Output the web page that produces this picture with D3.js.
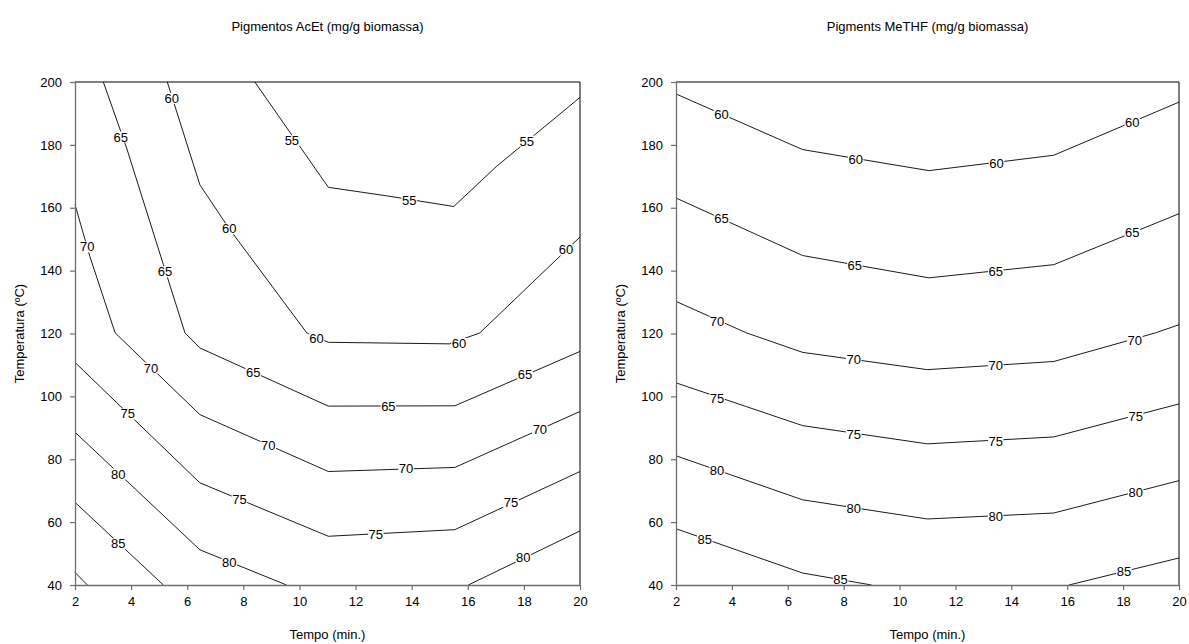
<!DOCTYPE html>
<html><head><meta charset="utf-8">
<script src="https://cdn.jsdelivr.net/npm/d3@7"></script>
<style>
body{margin:0;background:#fff}
svg{display:block}
text{font-family:"Liberation Sans",Arial,sans-serif;fill:#000}
</style>
</head><body>
<svg id="c" width="1189" height="644"></svg>
<script>
const xTicks = [2,4,6,8,10,12,14,16,18,20];
const yTicks = [40,60,80,100,120,140,160,180,200];
const titles = ["Pigmentos AcEt (mg/g biomassa)", "Pigments MeTHF (mg/g biomassa)"];
const xLabel = "Tempo (min.)";
const yLabel = "Temperatura (ºC)";

// contour polylines: [level, [[tempo, temperatura], ...]]
const acetLines = [
  [55, [[8.41,200],[11.03,166.5],[13.1,163.8],[15.5,160.4],[17.03,173.2],[20,195.1]]],
  [60, [[5.29,200],[6.45,167.3],[7.5,153.3],[10.26,120.2],[11.03,117.2],[15.36,116.7],[16.43,120.2],[20,150.7]]],
  [65, [[3.01,200],[3.84,179.0],[5.15,141.9],[5.92,120.2],[6.45,115.4],[11.03,96.9],[15.54,97.0],[20,114.3]]],
  [70, [[2,161.0],[2.53,144.5],[3.43,120.2],[6.45,94.2],[11.03,76.1],[15.54,77.4],[20,95.2]]],
  [75, [[2,110.8],[6.45,72.5],[11.03,55.5],[15.54,57.6],[20,76.1]]],
  [80, [[2,88.6],[6.45,51.2],[9.54,40]]],
  [80, [[16.02,40],[20,57.2]]],
  [85, [[2,66.3],[5.15,40]]],
  [90, [[2,44.0],[2.44,40]]]
];
const acetLabels = [
  [9.73,181.3,"55"],[13.91,162.3,"55"],[18.10,181.2,"55"],
  [5.45,194.8,"60"],[7.50,153.3,"60"],[10.61,118.3,"60"],[15.69,116.8,"60"],[19.50,146.6,"60"],
  [3.63,182.5,"65"],[5.21,139.6,"65"],[8.35,107.6,"65"],[13.17,96.7,"65"],[18.04,106.8,"65"],
  [2.44,147.6,"70"],[4.71,109.0,"70"],[8.89,84.4,"70"],[13.80,76.9,"70"],[18.57,89.6,"70"],
  [3.88,94.4,"75"],[7.86,67.1,"75"],[12.72,56.1,"75"],[17.54,66.1,"75"],
  [3.54,75.3,"80"],[7.50,47.3,"80"],[17.98,48.7,"80"],
  [3.54,53.1,"85"]
];

const methfLines = [
  [60, [[2,196.2],[6.53,178.5],[11.05,171.8],[15.52,176.7],[20,193.6]]],
  [65, [[2,163.1],[6.53,144.8],[11.05,137.7],[15.52,141.9],[20,158.1]]],
  [70, [[2,130.2],[4.52,120.2],[6.53,114.0],[10.99,108.5],[15.52,111.1],[19.16,120.2],[20,122.8]]],
  [75, [[2,104.3],[6.53,90.7],[10.99,84.9],[15.52,87.1],[20,97.6]]],
  [80, [[2,81.1],[6.53,67.1],[10.99,61.0],[15.52,62.9],[20,73.2]]],
  [85, [[2,57.9],[6.53,43.8],[9.0,40]]],
  [85, [[16.06,40],[20,48.6]]]
];
const methfLabels = [
  [3.63,189.8,"60"],[8.43,175.3,"60"],[13.47,174.2,"60"],[18.33,187.0,"60"],
  [3.63,156.6,"65"],[8.40,141.6,"65"],[13.44,139.8,"65"],[18.33,152.0,"65"],
  [3.47,123.7,"70"],[8.36,111.7,"70"],[13.44,109.8,"70"],[18.42,117.7,"70"],
  [3.47,99.3,"75"],[8.36,87.8,"75"],[13.44,85.7,"75"],[18.45,93.6,"75"],
  [3.47,76.5,"80"],[8.36,64.3,"80"],[13.44,61.8,"80"],[18.45,69.5,"80"],
  [3.03,54.4,"85"],[7.89,41.7,"85"],[18.03,44.3,"85"]
];

const svg = d3.select("#c");
const TOP = 82, BOTTOM = 585;

function panel(left, right, lines, labels, title, yLabX) {
  const g = svg.append("g");
  const x = d3.scaleLinear().domain([2,20]).range([left,right]);
  const y = d3.scaleLinear().domain([40,200]).range([BOTTOM,TOP]);
  const line = d3.line().x(d => x(d[0])).y(d => y(d[1]));

  g.append("g").selectAll("path").data(lines).join("path")
    .attr("d", d => line(d[1]))
    .attr("fill","none").attr("stroke","#000").attr("stroke-width",0.9);

  const lg = g.append("g");
  labels.forEach(d => {
    const gg = lg.append("g");
    const t = gg.append("text")
      .attr("x", x(d[0])).attr("y", y(d[1]))
      .attr("text-anchor","middle").attr("dominant-baseline","central")
      .attr("font-size",13).text(d[2]);
    const b = t.node().getBBox();
    gg.insert("rect","text")
      .attr("x", b.x - 0.5).attr("y", b.y + 2)
      .attr("width", b.width + 1).attr("height", b.height - 4)
      .attr("fill","#fff");
  });

  // frame top & right
  g.append("line").attr("x1",left).attr("x2",right).attr("y1",TOP).attr("y2",TOP)
    .attr("stroke","#000").attr("stroke-width",1);
  g.append("line").attr("x1",right).attr("x2",right).attr("y1",TOP).attr("y2",BOTTOM)
    .attr("stroke","#000").attr("stroke-width",1);

  const ax = g.append("g").attr("transform",`translate(0,${BOTTOM})`)
    .call(d3.axisBottom(x).tickValues(xTicks).tickFormat(d3.format("d"))
      .tickSize(5).tickSizeOuter(0).tickPadding(7));
  const ay = g.append("g").attr("transform",`translate(${left},0)`)
    .call(d3.axisLeft(y).tickValues(yTicks).tickFormat(d3.format("d"))
      .tickSize(5).tickSizeOuter(0).tickPadding(8));
  [ax, ay].forEach(a => {
    a.select(".domain").attr("stroke","#6e6e6e").attr("stroke-width",1.3);
    a.selectAll(".tick line").attr("stroke","#6e6e6e").attr("stroke-width",1.2);
    a.selectAll(".tick text").attr("font-size",13).attr("fill","#000")
      .style("font-family",'"Liberation Sans",Arial,sans-serif');
  });

  const cx = (left + right) / 2;
  g.append("text").attr("x",cx).attr("y",31).attr("text-anchor","middle")
    .attr("font-size",13).text(title);
  g.append("text").attr("x",cx).attr("y",639).attr("text-anchor","middle")
    .attr("font-size",13).text(xLabel);
  g.append("text").attr("transform",`translate(${yLabX},${(TOP+BOTTOM)/2}) rotate(-90)`)
    .attr("text-anchor","middle").attr("dominant-baseline","central")
    .attr("font-size",13).text(yLabel);
}

panel(75, 580, acetLines, acetLabels, titles[0], 19);
panel(676, 1179, methfLines, methfLabels, titles[1], 620);
</script>
</body></html>
